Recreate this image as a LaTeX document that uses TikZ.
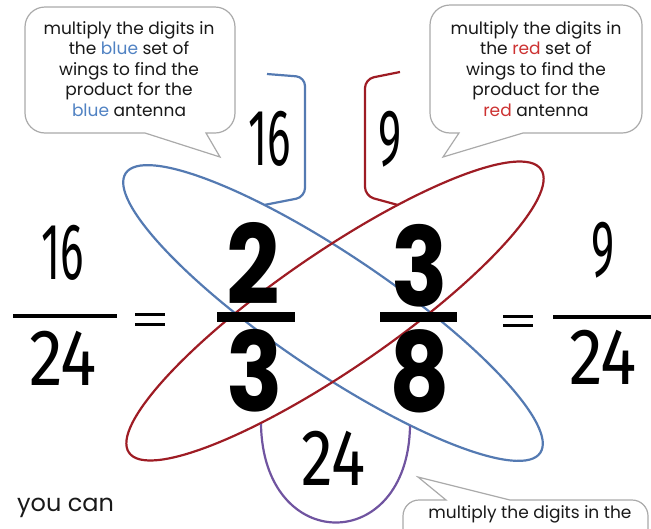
\documentclass[tikz,border=0pt]{standalone}
\usepackage{fontspec}
\usepackage{graphicx}
\setmainfont{Poppins}
\newfontfamily\handfont{Fira Sans}
\definecolor{bluec}{RGB}{84,122,178}
\definecolor{redc}{RGB}{158,28,36}
\definecolor{purplec}{RGB}{112,84,160}
\definecolor{bubc}{RGB}{170,170,170}
\definecolor{bluetxt}{RGB}{80,130,195}
\definecolor{redtxt}{RGB}{205,50,50}
\tikzset{
  bubble/.style={draw=bubc, line width=1.2pt, fill=white},
  bubtext/.style={font=\fontsize{17}{20.5}\selectfont, align=center, text=black!90, inner sep=0pt},
  hand/.style={font=\handfont\fontsize{80}{80}\selectfont, inner sep=0pt},
  bigdig/.style={font=\bfseries\fontsize{110}{110}\selectfont, inner sep=0pt},
  ell/.style={line width=2.2pt},
  bigbar/.style={line width=10pt},
  smallbar/.style={line width=4pt},
  eqline/.style={line width=3pt}
}
\begin{document}
\begin{tikzpicture}[x=1pt,y=-1pt]
\useasboundingbox (0,0) rectangle (651,528);
\clip (0,0) rectangle (651,528);
% bubbles
\draw[bubble] (145,133) -- (220,157) -- (206,133) -- (215,133)
  arc[start angle=-90,end angle=0,radius=20pt] -- (235,27)
  arc[start angle=0,end angle=90,radius=20pt] -- (45,7)
  arc[start angle=90,end angle=180,radius=20pt] -- (25,113)
  arc[start angle=180,end angle=270,radius=20pt] -- cycle;
\draw[bubble] (523,133) -- (443,157) -- (459,133) -- (450,133)
  arc[start angle=270,end angle=180,radius=20pt] -- (430,25)
  arc[start angle=180,end angle=90,radius=20pt] -- (622,5)
  arc[start angle=90,end angle=0,radius=20pt] -- (642,113)
  arc[start angle=0,end angle=-90,radius=20pt] -- cycle;
\draw[bubble] (446,500) -- (418,477) -- (510,500) -- (632,500)
  arc[start angle=90,end angle=0,radius=16pt] -- (648,600) -- (403,600) -- (403,516)
  arc[start angle=180,end angle=90,radius=16pt] -- cycle;
\node[bubtext] (lt) at (129,69) {multiply the digits in\\the \textcolor{bluetxt}{blue} set of\\wings to find the\\product for the\\\textcolor{bluetxt}{blue} antenna};
\node[bubtext] (rt) at (536,69) {multiply the digits in\\the \textcolor{redtxt}{red} set of\\wings to find the\\product for the\\\textcolor{redtxt}{red} antenna};
\node[bubtext] (bt) at (530,514) {multiply the digits in the};
\node[font=\fontsize{24}{24}\selectfont, anchor=west, inner sep=0pt, text=black!90] (yc) at (17,508) {you can};
% ellipses
\coordinate (cb) at (333,313);
\coordinate (cr) at (335,311);
\draw[ell, bluec, rotate around={-34:(cb)}] (cb) ellipse [x radius=250pt, y radius=58pt];
\draw[ell, redc, rotate around={34.5:(cr)}] (cr) ellipse [x radius=250pt, y radius=58pt];
% antennas
\coordinate (bA) at (267,74);
\coordinate (bE) at (264,205);
\draw[ell, bluec, rounded corners=9pt] (bA) -- (305,77) -- (305,197) -- (bE);
\coordinate (rA) at (400,72);
\coordinate (rE) at (398,205);
\draw[ell, redc, rounded corners=9pt] (rA) -- (365,79) -- (365,196) -- (rE);
\coordinate (pA) at (261,424);
\coordinate (pB) at (410,426);
\draw[ell, purplec] (pA) .. controls (263,555) and (408,555) .. (pB);
% antenna numbers
\node[hand] (n16) at (270,139) {\scalebox{0.55}[1]{16}};
\node[hand] (n9) at (390,139) {\scalebox{0.55}[1]{9}};
\node[hand] (p24) at (333,458) {\scalebox{0.8}[1]{24}};
% left fraction
\node[hand] (l16) at (63,253) {\scalebox{0.55}[1]{16}};
\node[hand] (l24) at (63,358) {\scalebox{0.85}[1]{24}};
\coordinate (lb1) at (13,316); \coordinate (lb2) at (117,316);
\draw[smallbar] (lb1) -- (lb2);
\coordinate (le1) at (135,314); \coordinate (le2) at (165,314);
\coordinate (le3) at (135,324); \coordinate (le4) at (165,324);
\draw[eqline] (le1) -- (le2); \draw[eqline] (le3) -- (le4);
% big fractions
\node[bigdig] (d2) at (253,263) {\scalebox{0.85}[1]{2}};
\node[bigdig] (d3) at (255,371) {\scalebox{0.85}[1]{3}};
\node[bigdig] (e3) at (420,266) {\scalebox{0.85}[1]{3}};
\node[bigdig] (e8) at (420,371) {\scalebox{0.85}[1]{8}};
\coordinate (b1) at (217,317); \coordinate (b2) at (295,317);
\coordinate (b3) at (380,317); \coordinate (b4) at (457,317);
\draw[bigbar] (b1) -- (b2);
\draw[bigbar] (b3) -- (b4);
% right fraction
\coordinate (re1) at (503,316); \coordinate (re2) at (533,316);
\coordinate (re3) at (503,325); \coordinate (re4) at (533,325);
\draw[eqline] (re1) -- (re2); \draw[eqline] (re3) -- (re4);
\node[hand] (r9) at (603,250) {\scalebox{0.55}[1]{9}};
\node[hand] (r24) at (603,357) {\scalebox{0.85}[1]{24}};
\coordinate (rb1) at (553,317); \coordinate (rb2) at (651,317);
\draw[smallbar] (rb1) -- (rb2);
\end{tikzpicture}
\end{document}
